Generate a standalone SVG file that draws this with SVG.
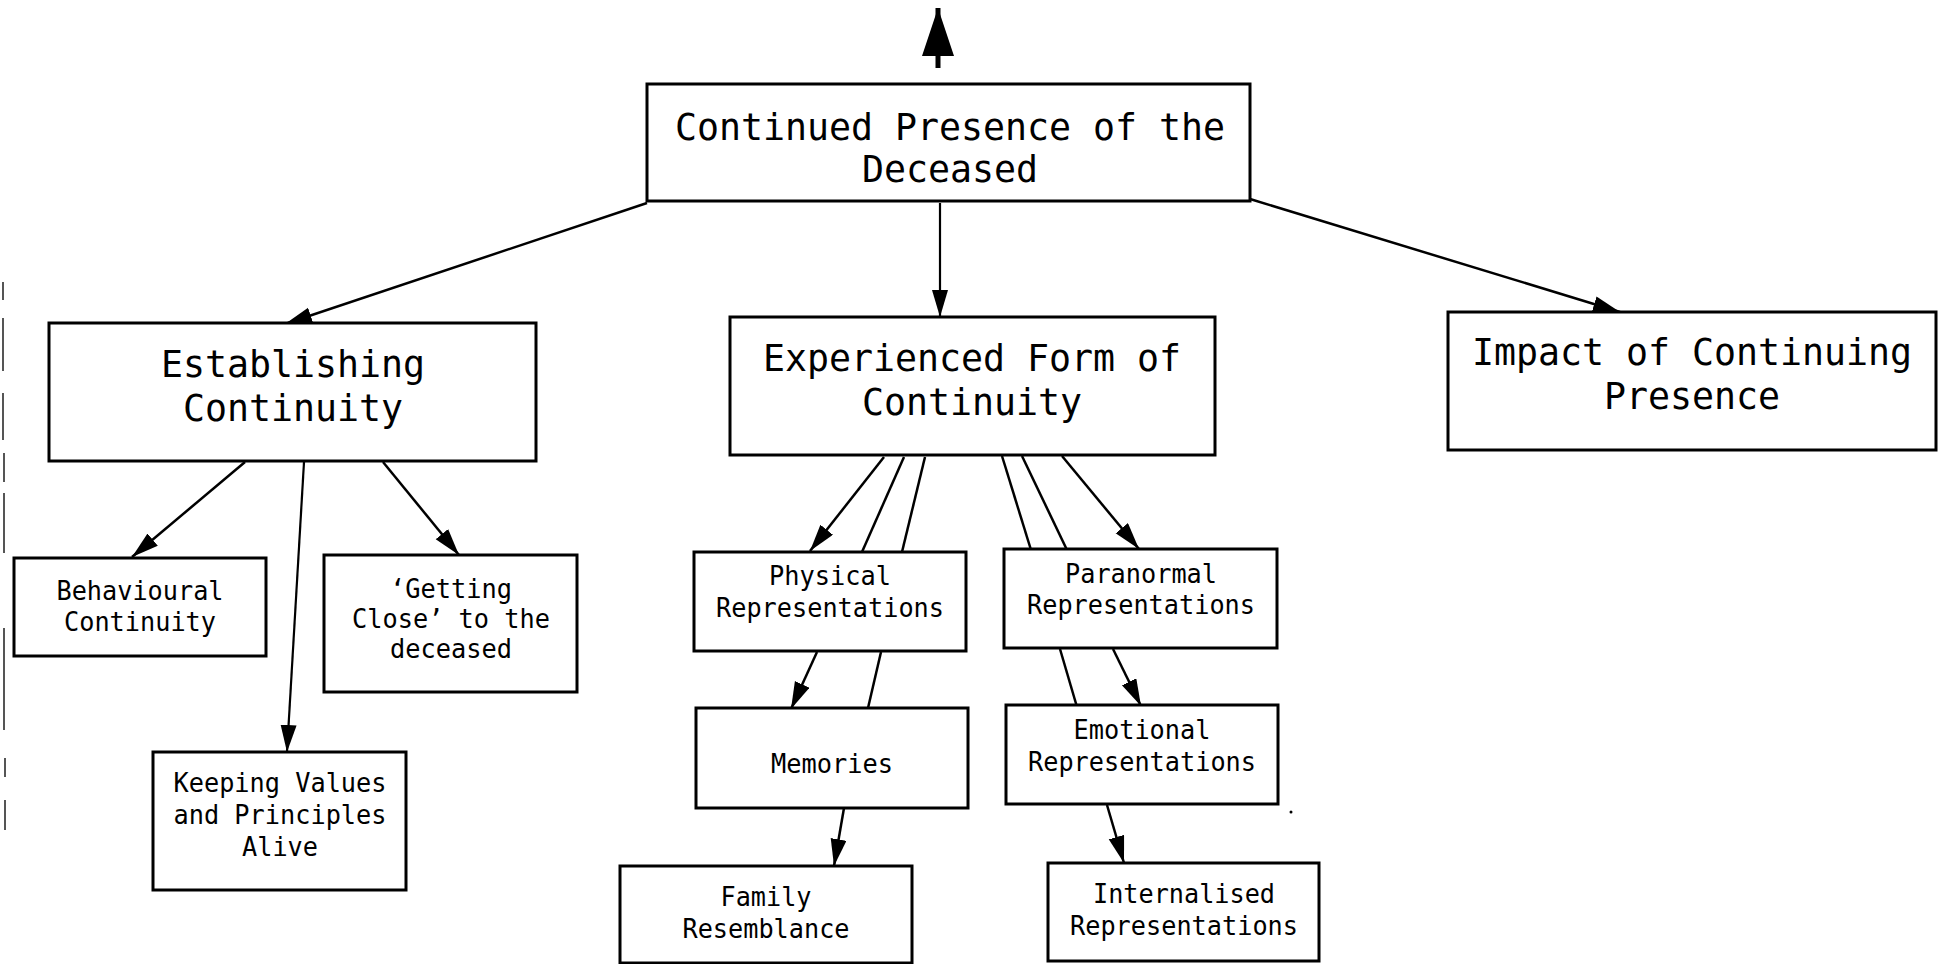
<svg xmlns="http://www.w3.org/2000/svg" width="1940" height="964" viewBox="0 0 1940 964">
  <style>
    .box { fill: #ffffff; stroke: #000000; stroke-width: 3; }
    .big { font-family: "DejaVu Sans Mono", "Liberation Mono", monospace; font-size: 38px; fill: #000000; text-anchor: middle; }
    .small { font-family: "DejaVu Sans Mono", "Liberation Mono", monospace; font-size: 26px; fill: #000000; text-anchor: middle; }
    .edge { fill: none; stroke: #000000; stroke-width: 2.5; }
    .plain { fill: none; stroke: #000000; stroke-width: 2.2; }
    .scan { fill: none; stroke: #555555; stroke-width: 2; }
  </style>
  <defs>
    <marker id="head" markerUnits="userSpaceOnUse" markerWidth="28" markerHeight="18" refX="27" refY="8" orient="auto">
      <path d="M0,0 L27,8 L0,16 z" fill="#000000"/>
    </marker>
    <marker id="headBig" markerUnits="userSpaceOnUse" markerWidth="50" markerHeight="34" refX="48" refY="16" orient="auto">
      <path d="M0,0 L48,16 L0,32 z" fill="#000000"/>
    </marker>
  </defs>

  <rect width="1940" height="964" fill="#ffffff"/>

  <!-- scanner marks along the left margin -->
  <g id="margin-marks">
    <path class="scan" d="M3,282 V300 M3,318 V371 M3,393 V440 M4,453 V482 M4,493 V553 M4,628 V730 M5,758 V777 M5,800 V830"/>
  </g>

  <!-- connectors -->
  <g id="connectors">
    <line x1="938" y1="68" x2="938" y2="8" stroke="#000" stroke-width="5" marker-end="url(#headBig)"/>
    <line class="edge" x1="647" y1="203" x2="285" y2="324" marker-end="url(#head)"/>
    <line class="plain" x1="940" y1="203" x2="940" y2="317" marker-end="url(#head)"/>
    <line class="edge" x1="1250" y1="199" x2="1620" y2="312" marker-end="url(#head)"/>

    <line class="edge" x1="245" y1="462" x2="132" y2="557" marker-end="url(#head)"/>
    <line class="plain" x1="304" y1="462" x2="287" y2="752" marker-end="url(#head)"/>
    <line class="edge" x1="383" y1="462" x2="459" y2="555" marker-end="url(#head)"/>

    <line class="edge" x1="884" y1="457" x2="810" y2="551" marker-end="url(#head)"/>
    <line class="edge" x1="904" y1="457" x2="862" y2="552"/>
    <line class="edge" x1="925" y1="457" x2="902" y2="552"/>
    <line class="edge" x1="1002" y1="456" x2="1031" y2="550"/>
    <line class="edge" x1="1022" y1="456" x2="1067" y2="550"/>
    <line class="edge" x1="1062" y1="456" x2="1139" y2="549" marker-end="url(#head)"/>

    <line class="edge" x1="817" y1="652" x2="791" y2="709" marker-end="url(#head)"/>
    <line class="edge" x1="881" y1="652" x2="868" y2="708"/>
    <line class="edge" x1="1060" y1="649" x2="1077" y2="707"/>
    <line class="edge" x1="1113" y1="649" x2="1141" y2="706" marker-end="url(#head)"/>

    <line class="edge" x1="844" y1="808" x2="834" y2="866" marker-end="url(#head)"/>
    <line class="edge" x1="1107" y1="805" x2="1124" y2="863" marker-end="url(#head)"/>
  </g>

  <!-- nodes -->
  <g id="continued-presence">
    <rect class="box" x="647" y="84" width="603" height="117"/>
    <text class="big" x="950" y="140" textLength="550" lengthAdjust="spacingAndGlyphs">Continued Presence of the</text>
    <text class="big" x="950" y="182" textLength="176" lengthAdjust="spacingAndGlyphs">Deceased</text>
  </g>

  <g id="establishing-continuity">
    <rect class="box" x="49" y="323" width="487" height="138"/>
    <text class="big" x="293" y="377" textLength="264" lengthAdjust="spacingAndGlyphs">Establishing</text>
    <text class="big" x="293" y="421" textLength="220" lengthAdjust="spacingAndGlyphs">Continuity</text>
  </g>

  <g id="experienced-form">
    <rect class="box" x="730" y="317" width="485" height="138"/>
    <text class="big" x="972" y="371" textLength="418" lengthAdjust="spacingAndGlyphs">Experienced Form of</text>
    <text class="big" x="972" y="415" textLength="220" lengthAdjust="spacingAndGlyphs">Continuity</text>
  </g>

  <g id="impact">
    <rect class="box" x="1448" y="312" width="488" height="138"/>
    <text class="big" x="1692" y="365" textLength="440" lengthAdjust="spacingAndGlyphs">Impact of Continuing</text>
    <text class="big" x="1692" y="409" textLength="176" lengthAdjust="spacingAndGlyphs">Presence</text>
  </g>

  <g id="behavioural-continuity">
    <rect class="box" x="14" y="558" width="252" height="98"/>
    <text class="small" x="140" y="600" textLength="167" lengthAdjust="spacingAndGlyphs">Behavioural</text>
    <text class="small" x="140" y="631" textLength="152" lengthAdjust="spacingAndGlyphs">Continuity</text>
  </g>

  <g id="getting-close">
    <rect class="box" x="324" y="555" width="253" height="137"/>
    <text class="small" x="451" y="598" textLength="122" lengthAdjust="spacingAndGlyphs">‘Getting</text>
    <text class="small" x="451" y="628" textLength="198" lengthAdjust="spacingAndGlyphs">Close’ to the</text>
    <text class="small" x="451" y="658" textLength="122" lengthAdjust="spacingAndGlyphs">deceased</text>
  </g>

  <g id="keeping-values">
    <rect class="box" x="153" y="752" width="253" height="138"/>
    <text class="small" x="280" y="792" textLength="213" lengthAdjust="spacingAndGlyphs">Keeping Values</text>
    <text class="small" x="280" y="824" textLength="213" lengthAdjust="spacingAndGlyphs">and Principles</text>
    <text class="small" x="280" y="856" textLength="76" lengthAdjust="spacingAndGlyphs">Alive</text>
  </g>

  <g id="physical-representations">
    <rect class="box" x="694" y="552" width="272" height="99"/>
    <text class="small" x="830" y="585" textLength="122" lengthAdjust="spacingAndGlyphs">Physical</text>
    <text class="small" x="830" y="617" textLength="228" lengthAdjust="spacingAndGlyphs">Representations</text>
  </g>

  <g id="paranormal-representations">
    <rect class="box" x="1004" y="549" width="273" height="99"/>
    <text class="small" x="1141" y="583" textLength="152" lengthAdjust="spacingAndGlyphs">Paranormal</text>
    <text class="small" x="1141" y="614" textLength="228" lengthAdjust="spacingAndGlyphs">Representations</text>
  </g>

  <g id="memories">
    <rect class="box" x="696" y="708" width="272" height="100"/>
    <text class="small" x="832" y="773" textLength="122" lengthAdjust="spacingAndGlyphs">Memories</text>
  </g>

  <g id="emotional-representations">
    <rect class="box" x="1006" y="705" width="272" height="99"/>
    <text class="small" x="1142" y="739" textLength="137" lengthAdjust="spacingAndGlyphs">Emotional</text>
    <text class="small" x="1142" y="771" textLength="228" lengthAdjust="spacingAndGlyphs">Representations</text>
  </g>

  <g id="family-resemblance">
    <rect class="box" x="620" y="866" width="292" height="97"/>
    <text class="small" x="766" y="906" textLength="91" lengthAdjust="spacingAndGlyphs">Family</text>
    <text class="small" x="766" y="938" textLength="167" lengthAdjust="spacingAndGlyphs">Resemblance</text>
  </g>

  <g id="internalised-representations">
    <rect class="box" x="1048" y="863" width="271" height="98"/>
    <text class="small" x="1184" y="903" textLength="182" lengthAdjust="spacingAndGlyphs">Internalised</text>
    <text class="small" x="1184" y="935" textLength="228" lengthAdjust="spacingAndGlyphs">Representations</text>
  </g>

  <circle cx="1291" cy="812" r="1.5" fill="#000000"/>
</svg>
